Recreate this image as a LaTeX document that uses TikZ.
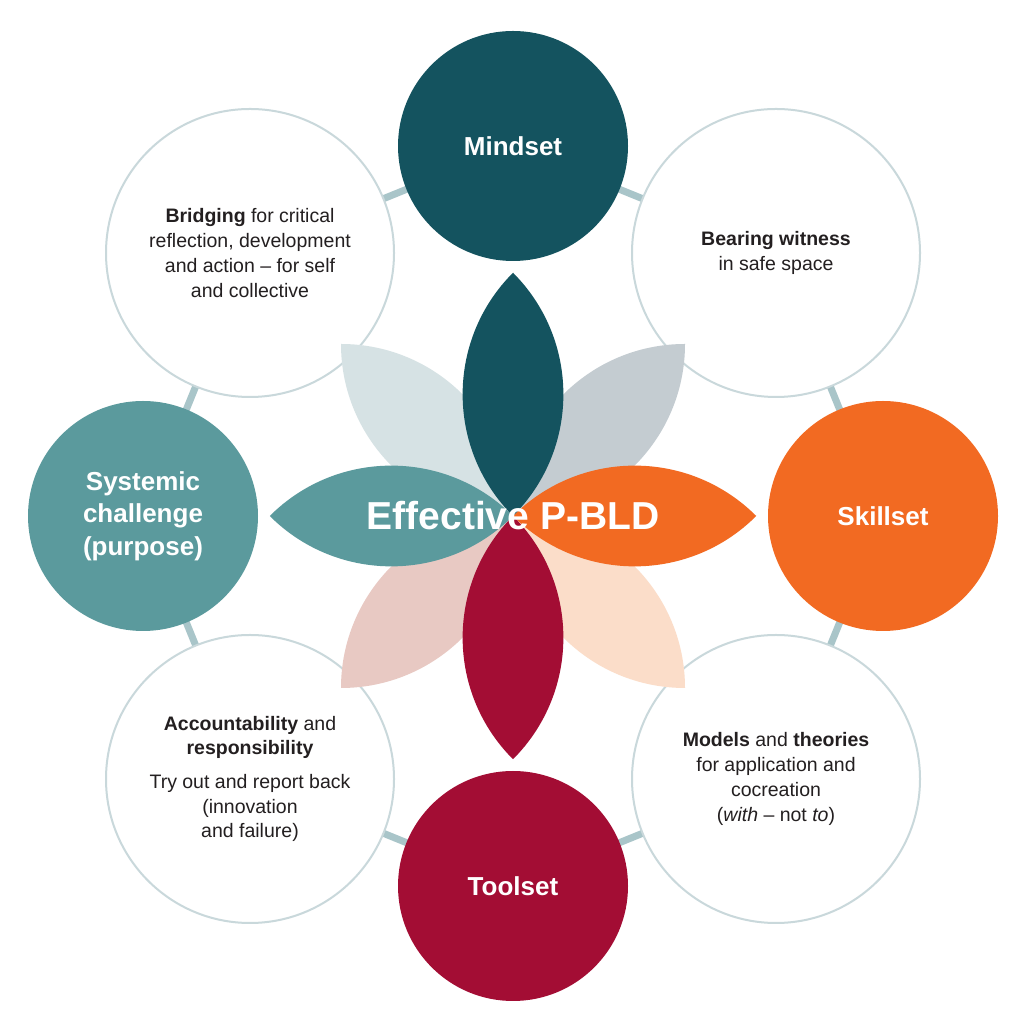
\documentclass[tikz,border=0pt]{standalone}
\usepackage{fontspec}
\setmainfont{Liberation Sans}
\usetikzlibrary{positioning,backgrounds}
\definecolor{mindcol}{HTML}{14535F}
\definecolor{skillcol}{HTML}{F26A22}
\definecolor{toolcol}{HTML}{A30D34}
\definecolor{syscol}{HTML}{5B9A9D}
\definecolor{leafUL}{HTML}{D6E2E4}
\definecolor{leafUR}{HTML}{C4CCD1}
\definecolor{leafLL}{HTML}{E8C9C3}
\definecolor{leafLR}{HTML}{FBDDC9}
\definecolor{linkcol}{HTML}{A9C5C9}
\definecolor{ringcol}{HTML}{C9D8DB}
\definecolor{textcol}{HTML}{231F20}
\newcommand{\leaf}[2]{%
  \fill[#2, shift={(hub)}, rotate=#1-45] (0,0)
    arc[start angle=180, end angle=90, radius=172pt]
    arc[start angle=0, end angle=-90, radius=172pt] -- cycle;}

\begin{document}
\begin{tikzpicture}
  [
    x=1pt, y=1pt,
    Big/.style={circle, fill=#1, minimum size=230pt, inner sep=0pt, text=white,
      font=\fontsize{26}{32.5}\selectfont\bfseries, align=center},
    Ring/.style={circle, draw=ringcol, line width=2pt, fill=white, minimum size=288pt,
      inner sep=0pt, text=textcol, font=\fontsize{19.5}{24.7}\selectfont, align=center},
    Link/.style={draw=linkcol, line width=7pt}
  ]
  \useasboundingbox (0,0) rectangle (1021,1024);
  \coordinate (hub) at (513, 508);
  % Nodes
  \node[Big=mindcol] (mindset) at (513, 878) {Mindset};
  \node[Big=skillcol] (skillset) at (883, 508) {Skillset};
  \node[Big=toolcol] (toolset) at (513, 138) {Toolset};
  \node[Big=syscol] (systemic) at (143, 508) {Systemic\\challenge\\(purpose)};
  \node[Ring] (bridging) at (250, 771) {\textbf{Bridging} for critical\\reflection, development\\and action – for self\\and collective};
  \node[Ring] (bearing) at (776, 771) {\textbf{Bearing witness}\\in safe space};
  \node[Ring] (models) at (776, 245) {\textbf{Models} and \textbf{theories}\\for application and\\cocreation\\(\textit{with} – not \textit{to})};
  \node[Ring] (account) at (250, 245) {\textbf{Accountability} and\\\textbf{responsibility}\\[9pt]Try out and report back\\(innovation\\and failure)};
  % Lines
  \begin{pgfonlayer}{background}
    \fill[white] (0,0) rectangle (1021,1024);
    \path [Link] (mindset.center) -- (bearing.center) -- (skillset.center) -- (models.center)
      -- (toolset.center) -- (account.center) -- (systemic.center) -- (bridging.center) -- cycle;
  \end{pgfonlayer}
  % Petals
  \leaf{135}{leafUL}
  \leaf{45}{leafUR}
  \leaf{225}{leafLL}
  \leaf{315}{leafLR}
  \leaf{180}{syscol}
  \leaf{0}{skillcol}
  \leaf{90}{mindcol}
  \leaf{270}{toolcol}
  \node[text=white, font=\fontsize{39}{44}\selectfont\bfseries] (title) at (hub) {Effective P-BLD};
\end{tikzpicture}
\end{document}
